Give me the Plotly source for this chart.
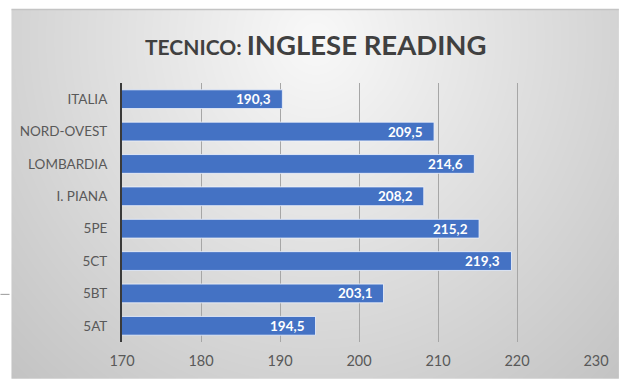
import base64
import struct
import zlib

import numpy as np
import plotly.graph_objects as go

# Punteggi medi - Tecnico, Inglese Reading
categories = ["ITALIA", "NORD-OVEST", "LOMBARDIA", "I. PIANA", "5PE", "5CT", "5BT", "5AT"]
scores = [190.3, 209.5, 214.6, 208.2, 215.2, 219.3, 203.1, 194.5]
x_ticks = [170, 180, 190, 200, 210, 220, 230]

W, H = 621, 381
M_L, M_R, M_T, M_B = 122, 23, 83, 37
PW, PH = W - M_L - M_R, H - M_T - M_B
FONT = "Lato, 'Open Sans', sans-serif"


def gradient_png(width, height):
    """Radial grey gradient, light at the top centre, darker towards the edges."""
    yy, xx = np.mgrid[0:height, 0:width].astype(float)
    cx, cy = 0.5 * width, 0.08 * height
    r = np.sqrt(((xx - cx) / (0.62 * width)) ** 2 + ((yy - cy) / (1.1 * height)) ** 2)
    v = np.clip(249 - 46 * r, 195, 250).astype(np.uint8)
    img = np.dstack([v, v, v])
    raw = b"".join(b"\x00" + row.tobytes() for row in img)

    def chunk(tag, data):
        c = tag + data
        return struct.pack(">I", len(data)) + c + struct.pack(">I", zlib.crc32(c) & 0xFFFFFFFF)

    png = b"\x89PNG\r\n\x1a\n"
    png += chunk(b"IHDR", struct.pack(">IIBBBBB", width, height, 8, 2, 0, 0, 0))
    png += chunk(b"IDAT", zlib.compress(raw, 9))
    png += chunk(b"IEND", b"")
    return "data:image/png;base64," + base64.b64encode(png).decode()


def px_x(p):
    return (p - M_L) / PW


def px_y(p):
    return (H - M_B - p) / PH


panel_left, panel_top = 11, 9

fig = go.Figure()
fig.add_trace(
    go.Bar(
        x=scores,
        y=categories,
        orientation="h",
        marker=dict(color="#4472C4", line=dict(color="rgba(235,240,250,0.85)", width=1)),
        hoverinfo="x+y",
    )
)

# value labels at the inner end of each bar
for cat, val in zip(categories, scores):
    fig.add_annotation(
        x=val,
        y=cat,
        xref="x",
        yref="y",
        text=f"{val:.1f}".replace(".", ","),
        showarrow=False,
        xanchor="right",
        xshift=-9,
        font=dict(family=FONT, size=13.5, color="white", weight="bold"),
    )

# chart title
fig.add_annotation(
    x=px_x(317),
    y=px_y(44),
    xref="paper",
    yref="paper",
    text="<span style='font-size:21px'>TECNICO: </span>INGLESE READING",
    showarrow=False,
    xanchor="center",
    yanchor="middle",
    font=dict(family=FONT, size=27.5, color="#404040", weight="bold"),
)

fig.add_layout_image(
    source=gradient_png(W - panel_left, H - panel_top),
    xref="paper",
    yref="paper",
    x=px_x(panel_left),
    y=px_y(panel_top),
    sizex=(W - panel_left) / PW,
    sizey=(H - panel_top) / PH,
    xanchor="left",
    yanchor="top",
    sizing="stretch",
    layer="below",
)

# panel top edge
fig.add_shape(
    type="line",
    xref="paper",
    yref="paper",
    x0=px_x(panel_left),
    x1=px_x(W),
    y0=px_y(panel_top),
    y1=px_y(panel_top),
    line=dict(color="#c4c4c4", width=1.5),
)
# short dashed connector on the left edge
fig.add_shape(
    type="line",
    xref="paper",
    yref="paper",
    x0=px_x(0),
    x1=px_x(13),
    y0=px_y(296),
    y1=px_y(296),
    line=dict(color="#9a9a9a", width=1, dash="dash"),
)

fig.update_layout(
    width=W,
    height=H,
    margin=dict(l=M_L, r=M_R, t=M_T, b=M_B, pad=0),
    paper_bgcolor="white",
    plot_bgcolor="rgba(0,0,0,0)",
    bargap=0.42,
    showlegend=False,
    separators=",.",
    font=dict(family=FONT, size=13, color="#595959"),
    xaxis=dict(
        range=[170, 230],
        tickvals=x_ticks,
        ticktext=[str(t) for t in x_ticks],
        showgrid=True,
        gridcolor="#a6a6a6",
        gridwidth=1,
        zeroline=False,
        showline=False,
        ticks="",
        ticklabelstandoff=8,
        tickfont=dict(size=14.5, color="#595959"),
    ),
    yaxis=dict(
        autorange="reversed",
        showgrid=False,
        showline=True,
        linecolor="#3a3a3a",
        linewidth=2,
        ticks="",
        ticklabelstandoff=10,
        tickfont=dict(size=13.5, color="#595959"),
    ),
)

fig.write_html("out.html")
